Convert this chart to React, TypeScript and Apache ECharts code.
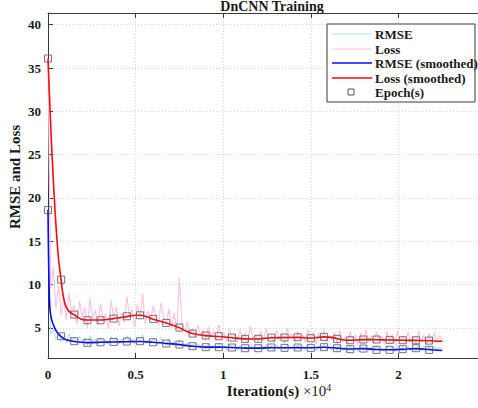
import React, { useEffect, useRef } from "react";
import * as echarts from "echarts";

// iteration step of the raw curves, in units of 1e4 iterations
const rawStep = 0.015;

const lossRaw = [
  36.0, 9.5, 12.0, 7.2, 9.8, 6.5, 8.4, 5.9, 9.0, 6.8,
  7.6, 5.4, 8.1, 6.2, 7.3, 5.0, 8.5, 6.0, 7.0, 5.3,
  7.8, 5.8, 6.6, 4.9, 8.2, 6.1, 7.4, 5.2, 6.8, 5.6,
  8.6, 6.3, 7.1, 5.1, 7.7, 6.0, 8.9, 5.5, 6.9, 5.9,
  7.5, 6.4, 5.3, 7.9, 6.2, 5.4, 7.2, 5.0, 6.7, 4.8,
  10.8, 5.2, 4.6, 5.7, 4.1, 5.0, 3.9, 5.3, 4.2, 4.7,
  3.6, 5.1, 4.0, 4.6, 3.5, 5.4, 3.8, 4.5, 3.4, 4.9,
  3.7, 4.3, 3.3, 4.8, 3.6, 4.4, 3.2, 5.2, 3.8, 4.2,
  3.4, 4.6, 3.5, 4.9, 3.7, 4.1, 3.3, 4.7, 3.6, 4.4,
  3.2, 5.0, 3.9, 4.3, 3.4, 4.6, 3.6, 4.2, 3.3, 4.8,
  3.7, 4.5, 3.1, 4.4, 3.5, 4.9, 3.3, 4.1, 3.6, 4.5,
  3.2, 4.7, 3.4, 4.0, 3.1, 4.6, 3.5, 4.2, 3.0, 4.4,
  3.3, 4.8, 3.4, 4.1, 3.2, 4.5, 3.5, 4.0, 3.1, 4.6,
  3.3, 4.2, 3.0, 4.7, 3.4, 4.1, 3.2, 4.5, 3.3, 4.0,
  3.1, 4.6, 3.4, 4.2, 3.0, 4.4, 3.2, 4.5, 3.3, 4.1,
  3.5,
];

const rmseRaw = [
  18.6, 4.2, 4.9, 3.7, 4.4, 3.5, 4.1, 3.3, 4.3, 3.6,
  3.9, 3.2, 4.0, 3.4, 3.8, 3.0, 4.1, 3.4, 3.7, 3.1,
  3.9, 3.3, 3.6, 3.0, 4.0, 3.4, 3.8, 3.1, 3.7, 3.2,
  4.1, 3.5, 3.7, 3.1, 3.9, 3.4, 4.2, 3.2, 3.6, 3.3,
  3.8, 3.5, 3.1, 3.9, 3.4, 3.0, 3.7, 3.0, 3.5, 2.9,
  3.6, 3.0, 2.8, 3.3, 2.6, 3.1, 2.6, 3.2, 2.7, 3.0,
  2.5, 3.1, 2.6, 2.9, 2.5, 3.2, 2.6, 2.9, 2.4, 3.1,
  2.6, 2.9, 2.4, 3.0, 2.6, 2.9, 2.4, 3.2, 2.6, 2.8,
  2.5, 3.0, 2.5, 3.1, 2.6, 2.8, 2.4, 3.0, 2.6, 2.9,
  2.4, 3.1, 2.7, 2.8, 2.5, 3.0, 2.5, 2.8, 2.4, 3.1,
  2.6, 2.9, 2.3, 2.9, 2.5, 3.1, 2.4, 2.8, 2.5, 2.9,
  2.3, 3.0, 2.4, 2.7, 2.3, 2.9, 2.4, 2.8, 2.2, 2.9,
  2.4, 3.0, 2.4, 2.8, 2.3, 2.9, 2.4, 2.7, 2.3, 3.0,
  2.4, 2.8, 2.2, 3.0, 2.4, 2.8, 2.3, 2.9, 2.4, 2.7,
  2.3, 3.0, 2.4, 2.8, 2.2, 2.9, 2.3, 2.9, 2.4, 2.8,
  2.5,
];

const lossSmoothed: [number, number][] = [
  [0, 36.1], [0.01, 31], [0.02, 26.3], [0.03, 22.2], [0.04, 18.6], [0.05, 15.5],
  [0.06, 13], [0.075, 10.5], [0.085, 8.9], [0.1, 7.6], [0.12, 6.9], [0.15, 6.5],
  [0.19, 6.0], [0.225, 5.9], [0.3, 5.9], [0.375, 6.07], [0.45, 6.3], [0.5, 6.45],
  [0.525, 6.45], [0.56, 6.3], [0.6, 6.0], [0.675, 5.55], [0.75, 5.0], [0.79, 4.6],
  [0.825, 4.35], [0.9, 4.1], [0.975, 4.0], [1.05, 3.86], [1.125, 3.73], [1.2, 3.72],
  [1.275, 3.86], [1.35, 3.88], [1.425, 3.9], [1.5, 3.8], [1.575, 3.96], [1.62, 3.9],
  [1.65, 3.75], [1.69, 3.6], [1.725, 3.57], [1.8, 3.64], [1.875, 3.63], [1.95, 3.6],
  [2.025, 3.57], [2.1, 3.55], [2.175, 3.52], [2.25, 3.45],
];

const rmseSmoothed: [number, number][] = [
  [0, 18.6], [0.004, 12], [0.01, 7.5], [0.02, 6.0], [0.038, 5.0], [0.055, 4.4],
  [0.075, 4.0], [0.1, 3.65], [0.15, 3.42], [0.225, 3.3], [0.3, 3.33], [0.375, 3.37],
  [0.45, 3.4], [0.525, 3.42], [0.6, 3.33], [0.675, 3.2], [0.75, 3.06], [0.825, 2.88],
  [0.9, 2.78], [0.975, 2.77], [1.05, 2.73], [1.125, 2.66], [1.2, 2.66], [1.275, 2.72],
  [1.35, 2.7], [1.425, 2.72], [1.5, 2.7], [1.575, 2.76], [1.65, 2.66], [1.725, 2.56],
  [1.8, 2.6], [1.875, 2.5], [1.95, 2.47], [2.025, 2.52], [2.1, 2.6], [2.175, 2.5],
  [2.25, 2.38],
];

const epochX = [
  0, 0.075, 0.15, 0.225, 0.3, 0.375, 0.45, 0.525, 0.6, 0.675,
  0.75, 0.825, 0.9, 0.975, 1.05, 1.125, 1.2, 1.275, 1.35, 1.425,
  1.5, 1.575, 1.65, 1.725, 1.8, 1.875, 1.95, 2.025, 2.1, 2.175,
];
const epochLoss = [
  36.1, 10.57, 6.53, 5.88, 5.88, 6.07, 6.34, 6.45, 6.03, 5.57,
  5.03, 4.34, 4.11, 4.04, 3.88, 3.73, 3.73, 3.88, 3.88, 3.92,
  3.8, 3.96, 3.73, 3.57, 3.65, 3.65, 3.61, 3.57, 3.57, 3.53,
];
const epochRmse = [
  18.6, 4.03, 3.46, 3.27, 3.34, 3.38, 3.42, 3.46, 3.34, 3.19,
  3.07, 2.88, 2.77, 2.77, 2.73, 2.65, 2.65, 2.73, 2.69, 2.73,
  2.69, 2.77, 2.65, 2.54, 2.61, 2.46, 2.46, 2.54, 2.65, 2.46,
];

// the 2.5 tick falls outside the visible window, so it carries no label
const xTickLabels = ["0", "0.5", "1", "1.5", "2", ""];

const legendNames = ["RMSE", "Loss", "RMSE (smoothed)", "Loss (smoothed)", "Epoch(s)"];

const SERIF = "'Liberation Serif', 'Times New Roman', serif";
const RMSE_RAW = "#b4e3f7";
const LOSS_RAW = "#fbc0e3";
const BLUE = "#0a0aff";
const RED = "#ff0a0a";

export default function App() {
  const ref = useRef<HTMLDivElement>(null);
  useEffect(() => {
    if (!ref.current) return;
    const chart = echarts.init(ref.current, null, { renderer: "svg" });
    const lossRawPts = lossRaw.map((v, i) => [i * rawStep, v]);
    const rmseRawPts = rmseRaw.map((v, i) => [i * rawStep, v]);
    const epochPts = [
      ...epochX.map((x, i) => [x, epochLoss[i]]),
      ...epochX.map((x, i) => [x, epochRmse[i]]),
    ];

    const lgX = 327, lgY = 24, lgW = 148, lgH = 78;
    const rowY = [34, 49, 63, 78, 92];
    const legendGraphics: any[] = [
      {
        type: "rect",
        shape: { x: lgX, y: lgY, width: lgW, height: lgH },
        style: { fill: "#fff", stroke: "#3a3a3a", lineWidth: 1 },
        z: 100,
      },
    ];
    const lineStyles = [
      { stroke: RMSE_RAW, lineWidth: 1 },
      { stroke: LOSS_RAW, lineWidth: 1 },
      { stroke: BLUE, lineWidth: 1.6 },
      { stroke: RED, lineWidth: 1.6 },
    ];
    legendNames.forEach((name, i) => {
      if (i < 4) {
        legendGraphics.push({
          type: "line",
          shape: { x1: 332, y1: rowY[i], x2: 372, y2: rowY[i] },
          style: lineStyles[i],
          z: 101,
        });
      } else {
        legendGraphics.push({
          type: "rect",
          shape: { x: 348, y: rowY[i] - 3, width: 6, height: 6 },
          style: { fill: "none", stroke: "#555", lineWidth: 1 },
          z: 101,
        });
      }
      legendGraphics.push({
        type: "text",
        x: 375,
        y: rowY[i],
        style: {
          text: name,
          font: `bold 13px ${SERIF}`,
          fill: "#1a1a1a",
          verticalAlign: "middle",
          align: "left",
        },
        z: 101,
      });
    });

    const option: any = {
      animation: false,
      backgroundColor: "#fff",
      title: {
        text: "DnCNN Training",
        left: 267,
        top: -6,
        textAlign: "center",
        textStyle: { fontFamily: SERIF, fontWeight: "bold", fontSize: 14, color: "#1a1a1a" },
      },
      grid: { left: 48, top: 13, width: 438, height: 345, outerBoundsMode: "none", containLabel: false },
      xAxis: [
        {
          type: "value",
          min: 0,
          max: 2.5,
          interval: 0.5,
          axisLine: { show: true, lineStyle: { color: "#3a3a3a", width: 1 } },
          axisTick: { show: true, inside: true, length: 5, lineStyle: { color: "#3a3a3a" } },
          axisLabel: {
            margin: 10,
            fontFamily: SERIF,
            fontWeight: "bold",
            fontSize: 13,
            color: "#1a1a1a",
            showMaxLabel: false,
            formatter: (v: number) => xTickLabels[Math.round(v / 0.5)] ?? "",
          },
          splitLine: { show: true, lineStyle: { type: [1, 2], color: "#d4d4d4" } },
        },
        {
          type: "value",
          position: "top",
          min: 0,
          max: 2.5,
          interval: 0.5,
          axisLine: { show: true, lineStyle: { color: "#3a3a3a", width: 1 } },
          axisTick: { show: true, inside: true, length: 5, lineStyle: { color: "#3a3a3a" } },
          axisLabel: { show: false },
          splitLine: { show: false },
        },
      ],
      yAxis: {
        type: "value",
        min: 1.52,
        max: 41.35,
        splitNumber: 8,
        minInterval: 5,
        maxInterval: 5,
        axisLine: { show: true, lineStyle: { color: "#3a3a3a", width: 1 } },
        axisTick: { show: true, inside: true, length: 5, lineStyle: { color: "#3a3a3a" } },
        axisLabel: {
          margin: 7,
          fontFamily: SERIF,
          fontWeight: "bold",
          fontSize: 13,
          color: "#1a1a1a",
          showMinLabel: false,
          showMaxLabel: false,
        },
        splitLine: { show: true, lineStyle: { type: [1, 2], color: "#d4d4d4" } },
      },
      graphic: [
        {
          type: "text",
          x: 15,
          y: 177,
          rotation: Math.PI / 2,
          style: {
            text: "RMSE and Loss",
            font: `bold 15px ${SERIF}`,
            fill: "#1a1a1a",
            align: "center",
            verticalAlign: "middle",
          },
        },
        {
          type: "text",
          x: 279,
          y: 391,
          style: {
            text: "{a|Iteration(s) }{b|×10}{s|4}",
            align: "center",
            verticalAlign: "middle",
            rich: {
              a: { font: `bold 15px ${SERIF}`, fill: "#1a1a1a" },
              b: { font: `15px ${SERIF}`, fill: "#1a1a1a" },
              s: { font: `10px ${SERIF}`, fill: "#1a1a1a", verticalAlign: "top", padding: [0, 0, 8, 0] },
            },
          },
        },
        ...legendGraphics,
      ],
      series: [
        {
          name: "RMSE",
          type: "line",
          data: rmseRawPts,
          showSymbol: false,
          symbol: "none",
          lineStyle: { color: RMSE_RAW, width: 1.1 },
          z: 1,
        },
        {
          name: "Loss",
          type: "line",
          data: lossRawPts,
          showSymbol: false,
          symbol: "none",
          lineStyle: { color: LOSS_RAW, width: 1.1 },
          z: 2,
        },
        {
          name: "RMSE (smoothed)",
          type: "line",
          data: rmseSmoothed,
          smooth: 0.3,
          symbol: "none",
          lineStyle: { color: BLUE, width: 1.6 },
          z: 3,
        },
        {
          name: "Loss (smoothed)",
          type: "line",
          data: lossSmoothed,
          smooth: 0.3,
          symbol: "none",
          lineStyle: { color: RED, width: 1.6 },
          z: 4,
        },
        {
          name: "Epoch(s)",
          type: "scatter",
          data: epochPts,
          symbol: "rect",
          symbolSize: 7,
          itemStyle: { color: "rgba(0,0,0,0)", borderColor: "#555", borderWidth: 1 },
          z: 5,
        },
      ],
    };
    chart.setOption(option);
    return () => chart.dispose();
  }, []);
  return (
    <div
      ref={ref}
      style={{ position: "fixed", left: 0, top: 0, width: 478, height: 408, background: "#fff" }}
    />
  );
}
